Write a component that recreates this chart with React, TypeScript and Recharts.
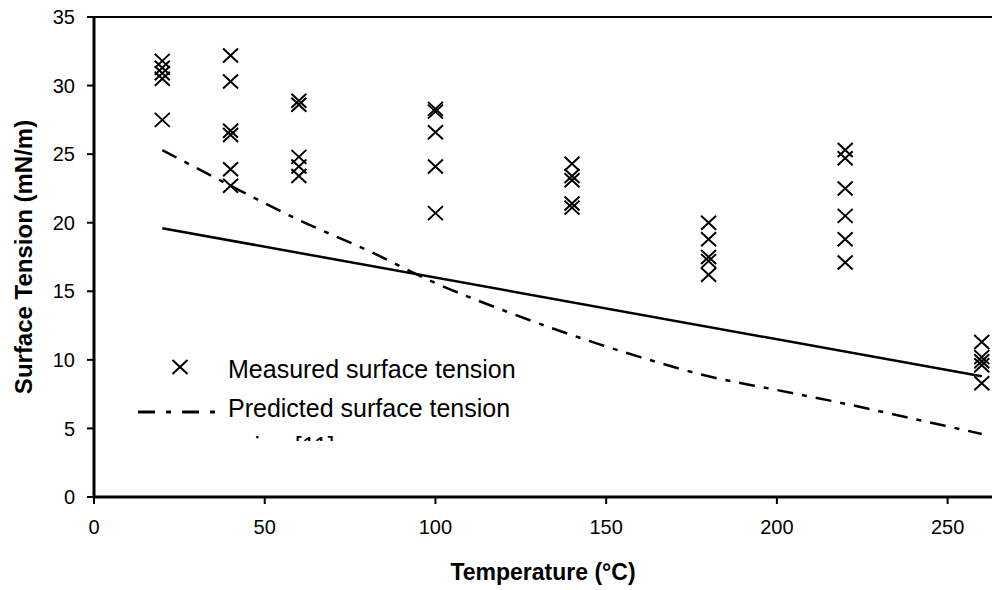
import { ComposedChart, Legend, Line, ReferenceLine, Scatter, XAxis, YAxis } from "recharts";

const FONT = '"Liberation Sans", Arial, Helvetica, sans-serif';

// measured surface tension (mN/m), grouped by temperature (°C)
const temps = [20, 40, 60, 100, 140, 180, 220, 260];
const measured = [
  [31.8, 31.3, 30.9, 30.5, 27.5],
  [32.2, 30.3, 26.7, 26.4, 23.9, 22.7],
  [28.9, 28.6, 24.8, 24.1, 23.4],
  [28.3, 28.1, 26.6, 24.1, 20.7],
  [24.3, 23.4, 23.1, 21.4, 21.1],
  [20.0, 18.8, 17.5, 17.2, 16.2],
  [25.3, 24.7, 22.5, 20.5, 18.8, 17.1],
  [11.3, 10.2, 9.9, 9.6, 8.3],
];

// straight fit line
const fitT = [20, 260];
const fitST = [19.6, 8.8];

// predicted surface tension (dash-dot)
const predT = [20, 40, 60, 80, 100, 120, 140, 160, 180, 200, 220, 240, 260];
const predST = [25.3, 22.7, 20.2, 18.0, 15.6, 13.6, 11.8, 10.2, 8.8, 7.8, 6.8, 5.7, 4.6];

const xTicks = [0, 50, 100, 150, 200, 250];
const yTicks = [0, 5, 10, 15, 20, 25, 30, 35];

const measuredData = temps.flatMap((t, i) => measured[i].map((v) => ({ t, st: v })));
const fitData = fitT.map((t, i) => ({ t, st: fitST[i] }));
const predData = predT.map((t, i) => ({ t, st: predST[i] }));

const DASH_DOT = "16 9 5 9";

function crossPath(cx: number, cy: number) {
  return `M${cx - 7.5},${cy - 7}L${cx + 7.5},${cy + 7}M${cx - 7.5},${cy + 7}L${cx + 7.5},${cy - 7}`;
}

function Cross(props: any) {
  const { cx, cy } = props;
  if (cx == null || cy == null) return null;
  return <path d={crossPath(cx, cy)} stroke="#000" strokeWidth={2} fill="none" />;
}

// legend box sits inside the plot; its last line is cut by the box edge, as in the original
function LegendBox() {
  return (
    <svg width={600} height={441} style={{ display: "block" }}>
      <path d={crossPath(180, 367)} stroke="#000" strokeWidth={2} fill="none" />
      <text x={228} y={378} fontSize={25} fontFamily={FONT} fill="#000">
        Measured surface tension
      </text>
      <line x1={138} y1={412} x2={216} y2={412} stroke="#000" strokeWidth={3} strokeDasharray="17 11 5 11" />
      <text x={228} y={417} fontSize={25} fontFamily={FONT} fill="#000">
        Predicted surface tension
      </text>
      <text x={228} y={455} fontSize={25} fontFamily={FONT} fill="#000">
        using [11]
      </text>
    </svg>
  );
}

const axisLine = { stroke: "#000", strokeWidth: 3 };
const tickLine = { stroke: "#000", strokeWidth: 2 };
const tick = { fill: "#000", fontSize: 20, fontFamily: FONT };

export default function App() {
  return (
    <div style={{ position: "fixed", left: 0, top: 0, width: 992, height: 590, background: "#fff", overflow: "hidden" }}>
      <ComposedChart width={992} height={590} margin={{ top: 17, right: 0, bottom: 0, left: 0 }}>
        <XAxis
          type="number"
          dataKey="t"
          domain={[0, 263]}
          ticks={xTicks}
          interval={0}
          allowDataOverflow
          height={93}
          tickSize={7}
          tickMargin={16}
          axisLine={axisLine}
          tickLine={tickLine}
          tick={tick}
          label={() => (
            <text x={543} y={572} textAnchor="middle" dominantBaseline="central" fontSize={23} fontWeight="bold" fontFamily={FONT} fill="#000">
              Temperature (°C)
            </text>
          )}
        />
        <YAxis
          type="number"
          domain={[0, 35]}
          ticks={yTicks}
          interval={0}
          width={94}
          tickSize={7}
          tickMargin={12}
          axisLine={axisLine}
          tickLine={tickLine}
          tick={tick}
          label={() => (
            <text x={23} y={257} transform="rotate(-90 23 257)" textAnchor="middle" dominantBaseline="central" fontSize={24} fontWeight="bold" fontFamily={FONT} fill="#000">
              Surface Tension (mN/m)
            </text>
          )}
        />
        <ReferenceLine y={35} stroke="#000" strokeWidth={2} />
        <Legend
          layout="horizontal"
          align="center"
          verticalAlign="middle"
          wrapperStyle={{ left: 0, top: 0, width: 600, height: 441, overflow: "hidden" }}
          content={() => <LegendBox />}
        />
        <Line data={fitData} dataKey="st" type="linear" stroke="#000" strokeWidth={2.5} dot={false} activeDot={false} isAnimationActive={false} />
        <Line data={predData} dataKey="st" type="monotone" stroke="#000" strokeWidth={2.5} strokeDasharray={DASH_DOT} dot={false} activeDot={false} isAnimationActive={false} />
        <Scatter data={measuredData} dataKey="st" shape={Cross} isAnimationActive={false} />
      </ComposedChart>
    </div>
  );
}
